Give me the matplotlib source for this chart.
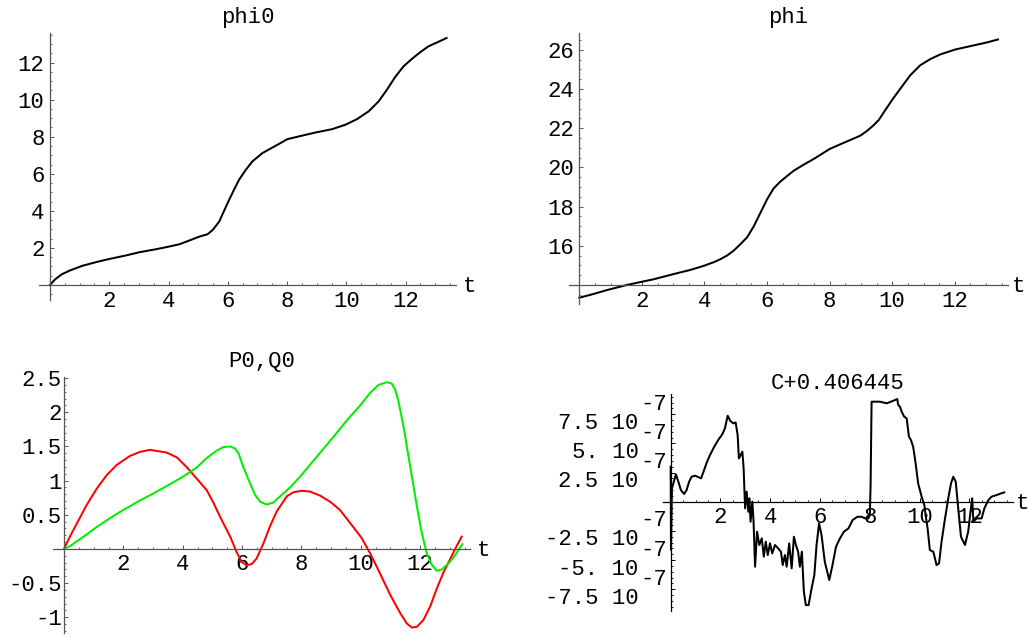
import numpy as np
import matplotlib
matplotlib.use("Agg")
import matplotlib.pyplot as plt
from matplotlib.ticker import FixedLocator

plt.rcParams['font.family'] = ['Liberation Mono', 'DejaVu Sans Mono']
FS = 16

# ---------------- data ----------------
phi0_t = [0, 0.17, 0.4, 0.67, 1.1, 1.57, 2.02, 2.58, 3.02, 3.58, 4.01, 4.37, 4.7, 5.04,
          5.32, 5.49, 5.71, 5.99, 6.21, 6.38, 6.61, 6.83, 7.17, 7.61, 8.01, 8.4, 8.96,
          9.52, 9.97, 10.36, 10.75, 11.09, 11.37, 11.65, 11.93, 12.21, 12.49, 12.77, 13.1, 13.38]
phi0_v = [0, 0.3, 0.58, 0.78, 1.04, 1.24, 1.41, 1.6, 1.77, 1.93, 2.07, 2.2, 2.4, 2.61,
          2.74, 2.97, 3.42, 4.41, 5.14, 5.68, 6.22, 6.67, 7.12, 7.51, 7.87, 8.02, 8.23,
          8.41, 8.65, 8.95, 9.37, 9.91, 10.54, 11.23, 11.8, 12.2, 12.56, 12.88, 13.12, 13.33]

phi_t = [0, 0.45, 0.88, 1.52, 1.95, 2.37, 3.12, 3.55, 4.0, 4.29, 4.5, 4.72, 4.93, 5.14,
         5.36, 5.57, 5.78, 6.0, 6.21, 6.42, 6.64, 6.85, 7.17, 7.49, 8.0, 8.34, 8.66, 8.98,
         9.2, 9.41, 9.57, 9.78, 10.03, 10.32, 10.58, 10.9, 11.22, 11.54, 12.02, 12.5, 13.03, 13.38]
phi_v = [13.35, 13.54, 13.74, 14.0, 14.15, 14.29, 14.6, 14.77, 14.99, 15.16, 15.31, 15.5,
         15.75, 16.07, 16.43, 16.98, 17.66, 18.37, 18.93, 19.27, 19.56, 19.83, 20.14, 20.43,
         20.94, 21.18, 21.4, 21.62, 21.87, 22.16, 22.42, 22.93, 23.52, 24.15, 24.71, 25.22,
         25.53, 25.77, 26.02, 26.19, 26.38, 26.53]

p0_t = [0, 0.2, 0.43, 0.76, 1.1, 1.44, 1.78, 2.22, 2.56, 2.9, 3.46, 3.8, 4.13, 4.47, 4.81,
        5.03, 5.26, 5.6, 5.82, 5.99, 6.16, 6.33, 6.49, 6.72, 6.94, 7.17, 7.51, 7.73, 8.01,
        8.29, 8.63, 8.97, 9.3, 9.64, 10.03, 10.31, 10.65, 10.99, 11.33, 11.55, 11.72, 11.89,
        12.11, 12.34, 12.56, 12.79, 13.01, 13.18, 13.4]
p0_v = [0, 0.18, 0.37, 0.64, 0.88, 1.08, 1.23, 1.36, 1.42, 1.45, 1.41, 1.34, 1.2, 1.03, 0.86,
        0.68, 0.47, 0.18, -0.05, -0.19, -0.24, -0.22, -0.14, 0.08, 0.33, 0.55, 0.77, 0.83, 0.85,
        0.84, 0.78, 0.69, 0.57, 0.38, 0.16, -0.06, -0.36, -0.67, -0.94, -1.09, -1.15, -1.14,
        -1.04, -0.84, -0.58, -0.34, -0.15, 0.0, 0.18]

q0_t = [0, 0.2, 0.43, 0.76, 1.1, 1.55, 2.0, 2.56, 3.01, 3.46, 4.02, 4.47, 4.81, 5.15, 5.37,
        5.6, 5.76, 5.88, 6.04, 6.27, 6.44, 6.61, 6.83, 7.06, 7.28, 7.62, 7.96, 8.52, 9.08,
        9.53, 9.98, 10.31, 10.6, 10.88, 11.04, 11.16, 11.27, 11.44, 11.61, 11.78, 11.94,
        12.06, 12.22, 12.39, 12.56, 12.73, 12.96, 13.18, 13.42]
q0_v = [0, 0.04, 0.11, 0.21, 0.32, 0.45, 0.57, 0.71, 0.81, 0.92, 1.06, 1.19, 1.33, 1.44, 1.49,
        1.5, 1.47, 1.4, 1.2, 0.96, 0.79, 0.69, 0.65, 0.68, 0.77, 0.9, 1.06, 1.35, 1.64, 1.88,
        2.1, 2.28, 2.4, 2.44, 2.42, 2.33, 2.16, 1.79, 1.35, 0.91, 0.5, 0.23, -0.06, -0.23,
        -0.32, -0.3, -0.21, -0.09, 0.07]

c_t = [0.0, 0.013, 0.05, 0.21, 0.31, 0.41, 0.54, 0.64, 0.74, 0.84, 0.98, 1.11, 1.22, 1.31,
       1.45, 1.58, 1.75, 1.91, 2.07, 2.18, 2.29, 2.4, 2.52, 2.61, 2.69, 2.74, 2.88, 2.93,
       2.99, 3.05, 3.12, 3.16, 3.21, 3.28, 3.33, 3.39, 3.47, 3.56, 3.66, 3.74, 3.82, 3.9,
       3.99, 4.08, 4.19, 4.32, 4.43, 4.5, 4.59, 4.66, 4.76, 4.86, 4.95, 5.03, 5.12, 5.19,
       5.27, 5.35, 5.43, 5.54, 5.66, 5.77, 5.86, 5.96, 6.06, 6.19, 6.37, 6.5, 6.64, 6.8,
       6.96, 7.14, 7.31, 7.5, 7.67, 7.81, 7.94, 8.0, 8.03, 8.07, 8.41, 8.68, 9.01, 9.1,
       9.14, 9.21, 9.28, 9.38, 9.48, 9.57, 9.65, 9.74, 9.83, 9.94, 10.08, 10.19, 10.24,
       10.32, 10.41, 10.55, 10.68, 10.78, 10.88, 11.01, 11.15, 11.26, 11.35, 11.45, 11.55,
       11.66, 11.82, 11.95, 12.06, 12.11, 12.16, 12.29, 12.49, 12.6, 12.76, 12.89, 13.09,
       13.27, 13.4]
c_v_e7 = [3.0, -4.14, 1.14, 2.34, 1.71, 1.0, 0.66, 1.0, 1.71, 2.14, 2.23, 2.11, 2.0, 2.51,
          3.37, 4.0, 4.71, 5.29, 5.77, 6.29, 7.37, 6.91, 6.71, 6.8, 5.71, 3.71, 4.29, 2.86,
          -0.57, 0.86, -0.86, 0.29, -1.71, 0.0, -1.71, -5.57, -2.57, -3.71, -3.14, -4.71,
          -3.43, -4.57, -3.57, -4.43, -3.71, -4.0, -4.29, -5.43, -4.57, -5.57, -3.57, -5.71,
          -3.0, -3.71, -4.29, -5.57, -4.29, -7.71, -8.86, -8.86, -7.43, -6.29, -3.71, -1.86,
          -2.86, -5.14, -6.71, -5.43, -3.86, -3.14, -2.57, -2.29, -1.57, -1.29, -1.29, -1.43,
          -1.43, -1.14, 1.43, 8.57, 8.57, 8.43, 8.71, 8.8, 8.29, 8.14, 7.71, 7.29, 7.14, 5.57,
          5.29, 4.71, 3.43, 1.57, 0.43, -0.29, -1.14, -2.29, -4.14, -4.29, -5.43, -5.29,
          -3.43, -1.57, 0.29, 1.57, 2.14, 1.71, -0.57, -3.0, -3.71, -2.57, -0.57, 0.29, -1.71,
          -1.43, -1.43, -0.57, 0.14, 0.43, 0.57, 0.71, 0.8]

titles = ["phi0", "phi", "P0,Q0", "C+0.406445"]
c_tick_vals = [-7.5e-7, -5e-7, -2.5e-7, 2.5e-7, 5e-7, 7.5e-7]
c_tick_base = ["-7.5 10", "-5. 10", "-2.5 10", "2.5 10", "5. 10", "7.5 10"]
c_tick_exp = "-7"

# ---------------- layout helpers ----------------
W, H = 1029, 637
fig = plt.figure(figsize=(W / 100, H / 100), dpi=100)
fig.patch.set_facecolor('white')


def add_ax(l, r, t, b):
    return fig.add_axes([l / W, 1 - b / H, (r - l) / W, (b - t) / H])


def style(ax, xlim, ylim, y0, xmaj, xmin, ymaj, ymin, ylabs, ypad, axcolor, tpos):
    ax.set_xlim(xlim)
    ax.set_ylim(ylim)
    ax.patch.set_visible(False)
    for s in ['top', 'right']:
        ax.spines[s].set_visible(False)
    ax.spines['left'].set_position(('data', 0))
    ax.spines['bottom'].set_position(('data', y0))
    for s in ['left', 'bottom']:
        ax.spines[s].set_color(axcolor)
        ax.spines[s].set_linewidth(0.9)
    ax.xaxis.set_major_locator(FixedLocator(xmaj))
    ax.xaxis.set_minor_locator(FixedLocator(xmin))
    ax.yaxis.set_major_locator(FixedLocator(ymaj))
    ax.yaxis.set_minor_locator(FixedLocator(ymin))
    ax.set_xticklabels([str(v) for v in xmaj])
    if ylabs is None:
        ax.set_yticklabels([])
    else:
        ax.set_yticklabels(ylabs)
    ax.tick_params(which='major', direction='in', length=3.2, width=0.7, color=axcolor,
                   labelsize=FS, labelcolor='black')
    ax.tick_params(which='minor', direction='in', length=1.6, width=0.6, color=axcolor)
    ax.tick_params(axis='x', which='major', pad=4)
    ax.tick_params(axis='y', which='major', pad=ypad)
    ax.annotate('t', xy=(xlim[1], y0), xycoords='data', xytext=(tpos, -7),
                textcoords='offset pixels', ha='center', va='baseline', fontsize=FS,
                annotation_clip=False)


def title(text, xc, yc):
    fig.text(xc / W, 1 - yc / H, text, ha='center', va='center', fontsize=FS)


xmaj = [2, 4, 6, 8, 10, 12]
xmin = [v for v in np.arange(0.5, 13.8, 0.5) if v % 2 != 0]
LW = 1.45

# ---------------- panel 1 ----------------
ax1 = add_ax(39, 456, 33, 300)
ax1.plot(phi0_t, phi0_v, color='black', lw=LW, solid_joinstyle='round')
y1maj = [2, 4, 6, 8, 10, 12]
y1min = [v for v in np.arange(-0.5, 13.6, 0.5) if v % 2 != 0]
style(ax1, (-0.37, 13.7), (-0.81, 13.6), 0, xmaj, xmin, y1maj, y1min,
      [str(v) for v in y1maj], 4, '#555555', 14)
title(titles[0], 247.5, 18)

# ---------------- panel 2 ----------------
ax2 = add_ax(569, 1008, 33, 304)
ax2.plot(phi_t, phi_v, color='black', lw=LW, solid_joinstyle='round')
y2maj = [16, 18, 20, 22, 24, 26]
y2min = [v for v in np.arange(13.5, 26.9, 0.5) if v % 2 != 0 and v != 14]
style(ax2, (-0.33, 13.7), (13.03, 26.86), 14, xmaj, xmin, y2maj, y2min,
      [str(v) for v in y2maj], 4, '#555555', 11)
title(titles[1], 788.5, 18)

# ---------------- panel 3 ----------------
ax3 = add_ax(53, 470, 376.7, 633)
ax3.plot(p0_t, p0_v, color='#ff0000', lw=LW, solid_joinstyle='round')
ax3.plot(q0_t, q0_v, color='#00ee00', lw=LW, solid_joinstyle='round')
y3maj = [-1, -0.5, 0.5, 1, 1.5, 2, 2.5]
y3lab = ["-1", "-0.5", "0.5", "1", "1.5", "2", "2.5"]
y3min = [round(v, 2) for v in np.arange(-1.2, 2.55, 0.1)
         if abs(round(v * 2) - v * 2) > 1e-6]
style(ax3, (-0.37, 13.68), (-1.23, 2.52), 0, xmaj, xmin, y3maj, y3min,
      y3lab, 1.5, '#555555', 13.5)
title(titles[2], 261.5, 361.7)

# ---------------- panel 4 ----------------
ax4 = add_ax(662.7, 1013, 394, 610.7)
ax4.plot(c_t, [v * 1e-7 for v in c_v_e7], color='black', lw=LW, solid_joinstyle='round')
y4min = [round(v, 2) * 1e-7 for v in np.arange(-9.0, 9.1, 0.5) if abs(v) % 2.5 > 1e-6]
style(ax4, (-0.32, 13.75), (-9.34e-7, 9.23e-7), 0, xmaj, xmin, c_tick_vals, y4min,
      None, 2, 'black', 10)
for v, b in zip(c_tick_vals, c_tick_base):
    ax4.annotate(b, xy=(0, v), xycoords='data', xytext=(-32, -9), textcoords='offset pixels',
                 ha='right', va='center', fontsize=FS, annotation_clip=False)
    ax4.annotate(c_tick_exp, xy=(0, v), xycoords='data', xytext=(-4, 10),
                 textcoords='offset pixels', ha='right', va='center', fontsize=FS,
                 annotation_clip=False)
title(titles[3], 837.9, 383.3)

fig.savefig('out.png', dpi=100, facecolor='white')
